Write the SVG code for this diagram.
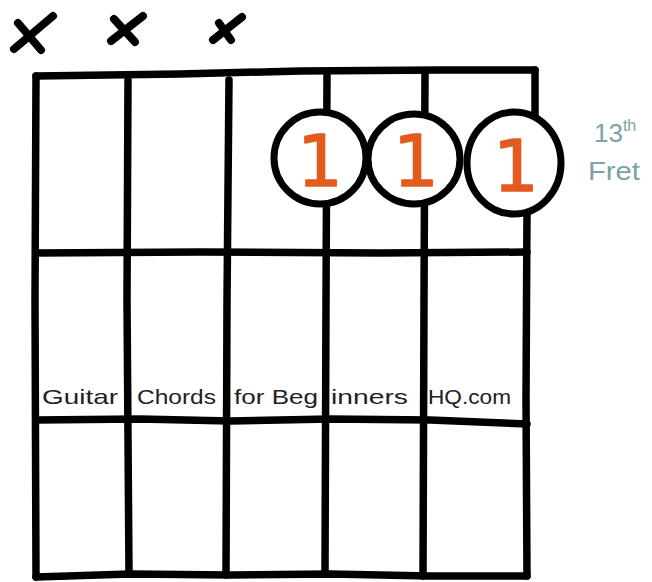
<svg xmlns="http://www.w3.org/2000/svg" width="652" height="582" viewBox="0 0 652 582">
<style>
.ln{fill:none;stroke:#000;stroke-width:7.5;stroke-linecap:round;stroke-linejoin:round}
.x{fill:none;stroke:#000;stroke-width:8;stroke-linecap:round}
.dot{fill:#fff;stroke:#000;stroke-width:7}
.num{font-family:"DejaVu Sans",sans-serif;font-size:72px;fill:#E45A1E;stroke:#E45A1E;stroke-width:1.5;stroke-linejoin:round;text-anchor:middle}
.lbl{font-family:"Liberation Sans",sans-serif;font-size:21px;fill:#222}
.fret{font-family:"Liberation Sans",sans-serif;font-size:26px;fill:#7AA4A4}
</style>
<rect width="652" height="582" fill="#fff"/>
<g id="mutes">
<path class="x" d="M14 49 L53 16 M18 23 L41 50"/>
<path class="x" d="M111 41 L143 16 M114 19 L135 42"/>
<path class="x" d="M213 40 L242 17 M219 23 L231 40"/>
</g>
<g id="grid">
<path class="ln" d="M36 76 L180 74 L300 71 L440 70 L535 70"/>
<path class="ln" d="M36 253 L200 252 L380 253 L527 252"/>
<path class="ln" d="M36 420 L140 419 L230 421 L330 419 L430 420 L527 424"/>
<path class="ln" d="M36 577 L130 574 L230 575 L330 574 L430 576 L527 576"/>
<path class="ln" d="M36 76 L35 300 L36 577"/>
<path class="ln" d="M128 80 L127 300 L129 574"/>
<path class="ln" d="M229 80 L227 300 L226 575"/>
<path class="ln" d="M327 76 L326 300 L325 574"/>
<path class="ln" d="M425 73 L424 300 L423 576"/>
<path class="ln" d="M535 70 L535 115 M527 210 L526 400 L527 576"/>
</g>
<g id="labels">
<text class="lbl" x="42" y="404" textLength="76" lengthAdjust="spacingAndGlyphs">Guitar</text>
<text class="lbl" x="137" y="404" textLength="79" lengthAdjust="spacingAndGlyphs">Chords</text>
<text class="lbl" x="234" y="404" textLength="84" lengthAdjust="spacingAndGlyphs">for Beg</text>
<text class="lbl" x="331" y="404" textLength="77" lengthAdjust="spacingAndGlyphs">inners</text>
<text class="lbl" x="428" y="404" textLength="83" lengthAdjust="spacingAndGlyphs">HQ.com</text>
</g>
<g id="finger1">
<ellipse class="dot" cx="320" cy="158" rx="46" ry="46"/>
<text class="num" x="320" y="186">1</text>
</g>
<g id="finger2">
<ellipse class="dot" cx="414" cy="159" rx="46" ry="45"/>
<text class="num" x="416" y="186">1</text>
</g>
<g id="finger3">
<ellipse class="dot" cx="514" cy="163" rx="47" ry="51"/>
<text class="num" x="516" y="191">1</text>
</g>
<g id="fretlabel">
<text class="fret" x="594" y="142">13<tspan font-size="16" dy="-11">th</tspan></text>
<text class="fret" x="588" y="180" textLength="52" lengthAdjust="spacingAndGlyphs">Fret</text>
</g>
</svg>
